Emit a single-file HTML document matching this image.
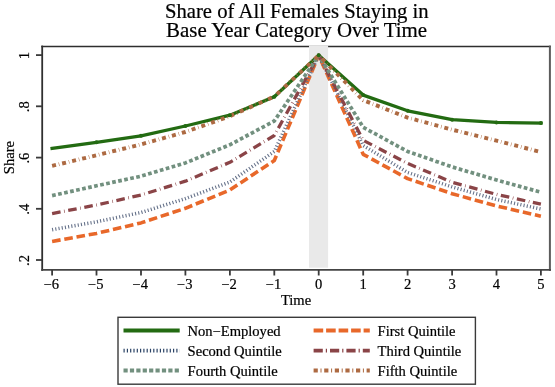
<!DOCTYPE html>
<html><head><meta charset="utf-8">
<style>
html,body{margin:0;padding:0;background:#fff;}
body{width:555px;height:387px;overflow:hidden;}
svg{display:block;filter:blur(0.3px);}
text{font-family:"Liberation Serif",serif;fill:#000;stroke:#000;stroke-width:0.2px;}
</style></head><body>
<svg width="555" height="387" viewBox="0 0 555 387">
<rect width="555" height="387" fill="#fff"/>
<text transform="translate(296.80,17.60) scale(1.035,1)" font-size="20" text-anchor="middle">Share of All Females Staying in</text>
<text transform="translate(296.60,36.90) scale(1.047,1)" font-size="20" text-anchor="middle">Base Year Category Over Time</text>
<line x1="41.3" y1="46.4" x2="550.9" y2="46.4" stroke="#2e2e2e" stroke-width="1.5"/>
<line x1="549.9" y1="45.6" x2="549.9" y2="270.9" stroke="#5c5c5c" stroke-width="2"/>
<line x1="42.2" y1="45.6" x2="42.2" y2="270.9" stroke="#303030" stroke-width="1.8"/>
<line x1="41.3" y1="269.9" x2="550.9" y2="269.9" stroke="#444" stroke-width="1.9"/>
<rect x="309" y="45.4" width="19.1" height="222.3" fill="#e9e9e9"/>
<g stroke="#3a3a3a" stroke-width="1.8">
<line x1="36" y1="55.1" x2="42.2" y2="55.1"/>
<line x1="36" y1="106.3" x2="42.2" y2="106.3"/>
<line x1="36" y1="157.6" x2="42.2" y2="157.6"/>
<line x1="36" y1="208.8" x2="42.2" y2="208.8"/>
<line x1="36" y1="260.0" x2="42.2" y2="260.0"/>
<line x1="52.1" y1="270" x2="52.1" y2="275.5"/>
<line x1="96.5" y1="270" x2="96.5" y2="275.5"/>
<line x1="141.0" y1="270" x2="141.0" y2="275.5"/>
<line x1="185.4" y1="270" x2="185.4" y2="275.5"/>
<line x1="229.9" y1="270" x2="229.9" y2="275.5"/>
<line x1="274.3" y1="270" x2="274.3" y2="275.5"/>
<line x1="318.7" y1="270" x2="318.7" y2="275.5"/>
<line x1="363.2" y1="270" x2="363.2" y2="275.5"/>
<line x1="407.6" y1="270" x2="407.6" y2="275.5"/>
<line x1="452.1" y1="270" x2="452.1" y2="275.5"/>
<line x1="496.5" y1="270" x2="496.5" y2="275.5"/>
<line x1="540.9" y1="270" x2="540.9" y2="275.5"/>
</g>
<text transform="translate(29.40,55.60) rotate(-90) scale(1.04,1)" font-size="14" text-anchor="middle">1</text>
<text transform="translate(29.40,106.80) rotate(-90) scale(1.04,1)" font-size="14" text-anchor="middle">.8</text>
<text transform="translate(29.40,158.10) rotate(-90) scale(1.04,1)" font-size="14" text-anchor="middle">.6</text>
<text transform="translate(29.40,209.30) rotate(-90) scale(1.04,1)" font-size="14" text-anchor="middle">.4</text>
<text transform="translate(29.40,260.50) rotate(-90) scale(1.04,1)" font-size="14" text-anchor="middle">.2</text>
<text transform="translate(51.40,288.60) scale(1.04,1)" font-size="14" text-anchor="middle">−6</text>
<text transform="translate(95.84,288.60) scale(1.04,1)" font-size="14" text-anchor="middle">−5</text>
<text transform="translate(140.28,288.60) scale(1.04,1)" font-size="14" text-anchor="middle">−4</text>
<text transform="translate(184.72,288.60) scale(1.04,1)" font-size="14" text-anchor="middle">−3</text>
<text transform="translate(229.16,288.60) scale(1.04,1)" font-size="14" text-anchor="middle">−2</text>
<text transform="translate(273.60,288.60) scale(1.04,1)" font-size="14" text-anchor="middle">−1</text>
<text transform="translate(318.74,288.60) scale(1.04,1)" font-size="14" text-anchor="middle">0</text>
<text transform="translate(363.18,288.60) scale(1.04,1)" font-size="14" text-anchor="middle">1</text>
<text transform="translate(407.62,288.60) scale(1.04,1)" font-size="14" text-anchor="middle">2</text>
<text transform="translate(452.06,288.60) scale(1.04,1)" font-size="14" text-anchor="middle">3</text>
<text transform="translate(496.50,288.60) scale(1.04,1)" font-size="14" text-anchor="middle">4</text>
<text transform="translate(540.94,288.60) scale(1.04,1)" font-size="14" text-anchor="middle">5</text>
<text transform="translate(296.00,304.80) scale(1.04,1)" font-size="14" text-anchor="middle">Time</text>
<text transform="translate(14.20,157.60) rotate(-90) scale(1.04,1)" font-size="14" text-anchor="middle">Share</text>
<g fill="none">
<polyline fill="none" stroke-linejoin="round" points="52.1,148.5 96.5,142.3 141.0,135.8 185.4,126.0 229.9,115.2 274.3,96.8 318.7,55.3 363.2,95.1 407.6,110.8 452.1,119.7 496.5,122.4 540.9,123.1" stroke="#236b12" stroke-width="3.3" stroke-linecap="square"/>
<polyline fill="none" stroke-linejoin="round" points="52.1,241.4 96.5,233.4 141.0,222.9 185.4,208.3 229.9,190.0 274.3,160.5 318.7,55.3 363.2,154.3 407.6,178.6 452.1,193.7 496.5,205.9 540.9,216.2" stroke="#e8682a" stroke-width="3.6" stroke-dasharray="8.6 3.8"/>
<polyline fill="none" stroke-linejoin="round" points="52.1,229.7 96.5,221.8 141.0,212.5 185.4,198.6 229.9,182.0 274.3,151.5 318.7,55.3 363.2,145.5 407.6,172.5 452.1,186.9 496.5,199.5 540.9,209.0" stroke="#66728a" stroke-width="3.5" stroke-dasharray="1.1 2.15"/>
<polyline fill="none" stroke-linejoin="round" points="52.1,213.6 96.5,205.0 141.0,195.0 185.4,181.2 229.9,162.3 274.3,135.5 318.7,55.3 363.2,140.3 407.6,163.4 452.1,182.2 496.5,194.4 540.9,204.2" stroke="#8a4447" stroke-width="3.3" stroke-dasharray="8.6 3.6 0.6 3.6"/>
<polyline fill="none" stroke-linejoin="round" points="52.1,195.6 96.5,185.8 141.0,176.2 185.4,162.9 229.9,144.8 274.3,121.0 318.7,55.3 363.2,127.3 407.6,151.5 452.1,166.9 496.5,180.0 540.9,192.2" stroke="#72907f" stroke-width="3.7" stroke-dasharray="3.7 2.45"/>
<polyline fill="none" stroke-linejoin="round" points="52.1,165.9 96.5,155.3 141.0,144.4 185.4,132.0 229.9,116.2 274.3,96.5 318.7,55.3 363.2,100.2 407.6,117.6 452.1,129.7 496.5,140.7 540.9,152.0" stroke="#ad6a42" stroke-width="3.9" stroke-dasharray="4 2.9 0.5 2.9"/>
</g>
<circle cx="96.5" cy="142.3" r="2" fill="#236b12"/>
<circle cx="141.0" cy="135.8" r="2" fill="#236b12"/>
<circle cx="185.4" cy="126.0" r="2" fill="#236b12"/>
<circle cx="229.9" cy="115.2" r="2" fill="#236b12"/>
<circle cx="274.3" cy="96.8" r="2" fill="#236b12"/>
<circle cx="318.7" cy="55.3" r="2" fill="#236b12"/>
<circle cx="363.2" cy="95.1" r="2" fill="#236b12"/>
<circle cx="407.6" cy="110.8" r="2" fill="#236b12"/>
<circle cx="452.1" cy="119.7" r="2" fill="#236b12"/>
<circle cx="496.5" cy="122.4" r="2" fill="#236b12"/>
<circle cx="540.9" cy="123.1" r="2" fill="#236b12"/>
<rect x="118" y="317.3" width="357.4" height="66.9" fill="none" stroke="#3a3a3a" stroke-width="1.4"/>
<line x1="123.5" y1="330.4" x2="179.7" y2="330.4" stroke="#236b12" stroke-width="4"/>
<line x1="123.5" y1="350.6" x2="179.7" y2="350.6" stroke="#2c4466" stroke-width="3.8" stroke-dasharray="1.2 2.1"/>
<line x1="123.5" y1="370.6" x2="179.7" y2="370.6" stroke="#72907f" stroke-width="4" stroke-dasharray="4.2 2.2"/>
<line x1="313.6" y1="330.4" x2="369.8" y2="330.4" stroke="#e8682a" stroke-width="4" stroke-dasharray="9.6 2.9"/>
<line x1="313.6" y1="350.6" x2="369.8" y2="350.6" stroke="#8a4447" stroke-width="3.6" stroke-dasharray="9.2 3 1.2 3"/>
<line x1="313.6" y1="370.6" x2="369.8" y2="370.6" stroke="#ad6a42" stroke-width="4" stroke-dasharray="4.2 2.7 1 2.7"/>
<text transform="translate(187.60,335.50) scale(1.04,1)" font-size="14" text-anchor="start">Non−Employed</text>
<text transform="translate(187.60,355.70) scale(1.04,1)" font-size="14" text-anchor="start">Second Quintile</text>
<text transform="translate(187.60,375.70) scale(1.04,1)" font-size="14" text-anchor="start">Fourth Quintile</text>
<text transform="translate(377.60,335.50) scale(1.04,1)" font-size="14" text-anchor="start">First Quintile</text>
<text transform="translate(377.60,355.70) scale(1.04,1)" font-size="14" text-anchor="start">Third Quintile</text>
<text transform="translate(377.60,375.70) scale(1.04,1)" font-size="14" text-anchor="start">Fifth Quintile</text>
</svg>
</body></html>
